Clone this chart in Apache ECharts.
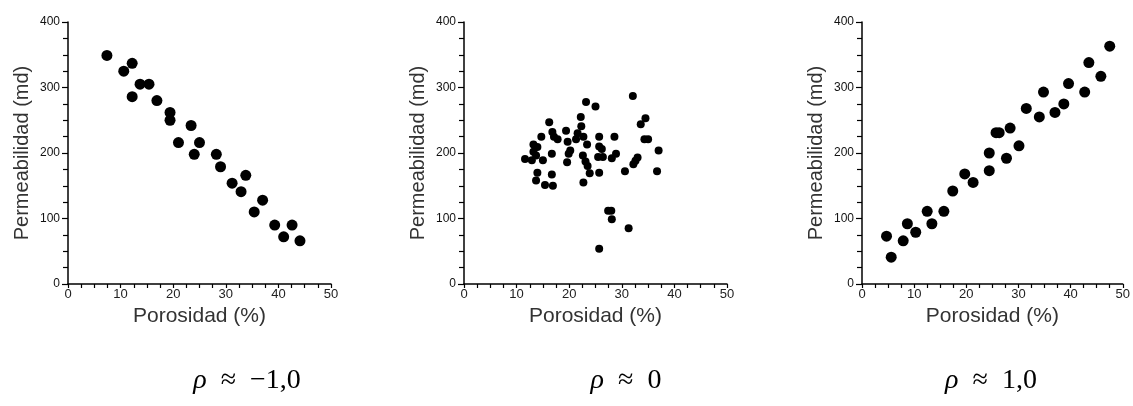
<!DOCTYPE html>
<html>
<head>
<meta charset="utf-8">
<script src="https://cdn.jsdelivr.net/npm/echarts@6/dist/echarts.min.js"></script>
</head>
<body style="margin:0">
<div id="main" style="width:1133px;height:406px;"></div>
<script>
// ticks
var xTicks = [0, 10, 20, 30, 40, 50];
var yTicks = [0, 100, 200, 300, 400];
var rhoLabels = ['\u22121,0', '0', '1,0'];

// rho ~ -1
var porNeg = [7.4, 10.6, 12.2, 12.2, 13.7, 15.4, 16.9, 19.4, 19.4, 21.0, 23.4, 24.0, 25.0, 28.2, 29.0,
  31.2, 32.9, 33.8, 35.4, 37.0, 39.3, 41.0, 42.6, 44.1];
var permNeg = [349, 325, 337, 286, 305, 305, 280, 262, 250, 216, 242, 198, 216, 198, 179,
  154, 141, 166, 110, 128, 90, 72, 90, 66];

// rho ~ 0
var porZero = [23.2, 25.0, 22.2, 16.2, 22.3, 16.8, 19.4, 21.6, 17.1, 14.7, 17.8, 22.7, 25.7, 28.6,
  19.7, 21.3, 13.2, 13.95, 23.4, 25.7, 26.2, 20.2, 19.9, 16.7, 13.2, 28.9, 11.6, 12.9, 13.7, 15.0,
  22.6, 25.5, 26.4, 28.1, 23.1, 19.6, 23.5, 23.9, 25.7, 13.95, 16.7, 13.7, 15.4, 16.9, 22.7, 30.6,
  32.1, 34.5, 33.6, 34.3, 35.0, 37.0, 33.0, 32.6, 32.2, 36.7, 27.4, 28.0, 28.1, 31.3, 25.7];
var permZero = [278, 271, 255, 247, 241, 232, 234, 230, 225, 225, 221, 225, 225, 225,
  217, 221, 213, 209, 213, 210, 206, 204, 199, 199, 202, 199, 191, 189, 196, 189,
  196, 194, 194, 192, 187, 186, 180, 169, 170, 170, 167, 158, 151, 150, 155, 172,
  287, 253, 244, 221, 221, 204, 193, 188, 183, 172, 112, 112, 99, 85, 54];

// rho ~ 1
var porPos = [4.7, 5.6, 7.9, 8.7, 10.3, 12.5, 13.4, 15.7, 17.4, 19.7, 21.3, 24.4, 24.4, 25.7, 26.3,
  27.7, 28.4, 30.1, 31.5, 34.0, 34.8, 37.0, 38.7, 39.6, 42.7, 43.5, 45.8, 47.5];
var permPos = [73, 41, 66, 92, 79, 111, 92, 111, 142, 168, 155, 173, 200, 231, 231,
  192, 238, 211, 268, 255, 293, 262, 275, 306, 293, 338, 317, 363];

function pts(xs, ys) {
  return xs.map(function (v, i) { return [v, ys[i]]; });
}

var gridLeft = [68, 464, 862];
var rhoCenter = [242, 621, 986];

var grids = [], xAxes = [], yAxes = [], series = [], titles = [];
var sets = [[porNeg, permNeg, 11], [porZero, permZero, 8], [porPos, permPos, 11]];

for (var i = 0; i < 3; i++) {
  grids.push({ left: gridLeft[i], top: 22, width: 263, height: 262 });
  xAxes.push({
    gridIndex: i, type: 'value',
    min: xTicks[0], max: xTicks[xTicks.length - 1], interval: 10,
    name: 'Porosidad (%)', nameLocation: 'middle', nameGap: 20,
    nameTextStyle: { fontSize: 21, fontFamily: 'Liberation Sans', color: '#333' },
    axisLine: { lineStyle: { color: '#000', width: 1.5 } },
    axisTick: { length: 4, lineStyle: { color: '#000', width: 1.2 } },
    minorTick: { show: true, splitNumber: 4, length: 4, lineStyle: { color: '#000', width: 1.2 } },
    axisLabel: { fontSize: 13, color: '#222', fontFamily: 'Liberation Sans', margin: 4 },
    splitLine: { show: false }
  });
  yAxes.push({
    gridIndex: i, type: 'value',
    min: yTicks[0], max: yTicks[yTicks.length - 1], interval: 100,
    name: 'Permeabilidad (md)', nameLocation: 'middle', nameGap: 36,
    nameTextStyle: { fontSize: 20, fontFamily: 'Liberation Sans', color: '#333' },
    axisLine: { lineStyle: { color: '#000', width: 1.5 } },
    axisTick: { length: 6, lineStyle: { color: '#000', width: 1.2 } },
    minorTick: { show: true, splitNumber: 4, length: 5, lineStyle: { color: '#000', width: 1.2 } },
    axisLabel: { fontSize: 12, color: '#111', fontFamily: 'Liberation Sans', margin: 8,
      verticalAlign: 'middle', padding: [0, 0, 8, 0] },
    splitLine: { show: false }
  });
  series.push({
    type: 'scatter', xAxisIndex: i, yAxisIndex: i,
    symbol: 'circle', symbolSize: sets[i][2],
    itemStyle: { color: '#000', opacity: 1 },
    data: pts(sets[i][0], sets[i][1])
  });
  titles.push({
    text: '{r|\u03c1}{t|  \u2248  ' + rhoLabels[i] + '}',
    left: rhoCenter[i], top: 362, textAlign: 'center',
    textStyle: {
      fontWeight: 'normal',
      rich: {
        r: { fontSize: 28, fontStyle: 'italic', fontWeight: 'normal', fontFamily: 'Liberation Serif', color: '#000' },
        t: { fontSize: 28, fontWeight: 'normal', fontFamily: 'Liberation Serif', color: '#000' }
      }
    }
  });
}

var chart = echarts.init(document.getElementById('main'));
chart.setOption({
  animation: false,
  backgroundColor: '#fff',
  title: titles,
  grid: grids,
  xAxis: xAxes,
  yAxis: yAxes,
  series: series
});
</script>
</body>
</html>
